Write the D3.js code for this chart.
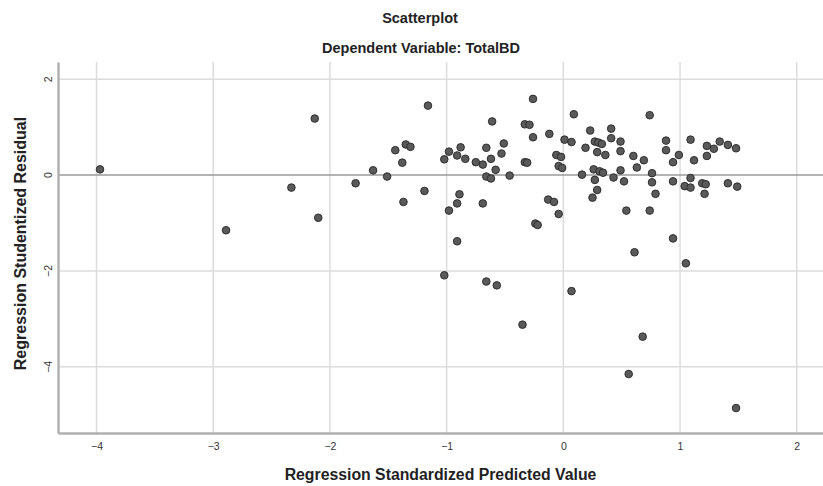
<!DOCTYPE html>
<html>
<head>
<meta charset="utf-8">
<script src="https://cdn.jsdelivr.net/npm/d3@7"></script>
<style>
    body { margin: 0; background: #fff; }
    text { font-family: "Liberation Sans", Arial, sans-serif; }
</style>
</head>
<body>
<div id="chart"></div>
<script>
    'use strict';
    // Regression Standardized Predicted Value
    var predicted = [
        -3.97, -2.89, -2.33, -2.13, -2.10, -1.78, -1.63, -1.51, -1.44, -1.35,
        -1.31, -1.38, -1.37, -1.19, -1.16, -1.02, -0.98, -0.91, -0.88, -0.84,
        -0.75, -0.69, -0.66, -0.62, -0.58, -0.51, -0.53, -0.61, -0.66, -0.62,
        -0.46, -0.89, -0.91, -0.98, -0.69, -0.91, -0.26, -0.33, -0.29, -0.26,
        -0.12, -0.33, -0.31, -0.13, -0.24, -0.22, 0.09, 0.74, 0.01, 0.07,
        0.23, 0.41, 0.41, 0.27, 0.30, 0.33, 0.49, 0.19, 0.29, 0.36,
        0.49, 0.60, 0.69, 0.63, -0.06, -0.02, -0.04, -0.01, 0.16, 0.26,
        0.31, 0.34, 0.27, 0.43, 0.49, 0.52, 0.29, 0.25, 0.76, 0.76,
        0.79, 0.88, 0.88, 0.99, 0.94, 1.09, 1.12, 0.94, 1.09, 1.04,
        1.09, 1.23, 1.29, 1.23, 1.34, 1.41, 1.48, 1.19, 1.22, 1.21,
        1.41, 1.49, 0.54, 0.74, -0.08, -0.04, 0.94, 0.61, 1.05, 0.07,
        0.68, 0.56, 1.48, -1.02, -0.66, -0.57, -0.35
    ];
    // Regression Studentized Residual
    var residual = [
        0.12, -1.15, -0.26, 1.18, -0.89, -0.17, 0.10, -0.03, 0.52, 0.64,
        0.59, 0.26, -0.56, -0.33, 1.45, 0.33, 0.49, 0.41, 0.58, 0.34,
        0.27, 0.22, 0.57, 0.34, 0.11, 0.66, 0.45, 1.12, -0.03, -0.07,
        -0.01, -0.40, -0.59, -0.74, -0.59, -1.38, 1.59, 1.06, 1.05, 0.79,
        0.86, 0.27, 0.26, -0.51, -1.01, -1.04, 1.27, 1.25, 0.74, 0.69,
        0.93, 0.97, 0.77, 0.70, 0.68, 0.65, 0.70, 0.57, 0.48, 0.42,
        0.50, 0.40, 0.31, 0.16, 0.42, 0.38, 0.19, 0.15, 0.01, 0.12,
        0.08, 0.05, -0.10, -0.05, 0.10, -0.13, -0.31, -0.47, 0.04, -0.15,
        -0.39, 0.72, 0.52, 0.42, 0.27, 0.74, 0.31, -0.13, -0.06, -0.23,
        -0.26, 0.61, 0.55, 0.40, 0.70, 0.63, 0.56, -0.17, -0.19, -0.39,
        -0.17, -0.24, -0.74, -0.74, -0.56, -0.81, -1.32, -1.61, -1.84, -2.42,
        -3.37, -4.15, -4.86, -2.09, -2.22, -2.30, -3.12
    ];
    var xTicks = [-4, -3, -2, -1, 0, 1, 2];
    var yTicks = [-4, -2, 0, 2];

    var width = 823,
        height = 486,
        plot = {
            left: 58,
            right: 823,
            top: 62,
            bottom: 433
        };

    var svg = d3.select('#chart')
        .append('svg')
        .attr('width', width)
        .attr('height', height);

    var x = d3.scaleLinear().domain([-4.33, 2.225]).range([plot.left, plot.right]);
    var y = d3.scaleLinear().domain([-5.38, 2.36]).range([plot.bottom, plot.top]);

    // titles
    svg.append('text')
        .attr('x', 420).attr('y', 23)
        .attr('text-anchor', 'middle')
        .attr('font-size', '14.5px').attr('font-weight', 'bold')
        .attr('fill', '#222')
        .text('Scatterplot');

    svg.append('text')
        .attr('x', 421).attr('y', 53)
        .attr('text-anchor', 'middle')
        .attr('font-size', '14.5px').attr('font-weight', 'bold')
        .attr('fill', '#222')
        .text('Dependent Variable: TotalBD');

    // grid
    var grid = svg.append('g').attr('class', 'grid');
    grid.selectAll('line.vx')
        .data(xTicks)
        .enter().append('line')
        .attr('class', 'vx')
        .attr('x1', function (d) { return x(d); })
        .attr('x2', function (d) { return x(d); })
        .attr('y1', plot.top).attr('y2', plot.bottom)
        .attr('stroke', '#dcdcdc').attr('stroke-width', 1.5);

    grid.selectAll('line.hy')
        .data(yTicks.filter(function (d) { return d !== 0; }))
        .enter().append('line')
        .attr('class', 'hy')
        .attr('x1', plot.left).attr('x2', plot.right)
        .attr('y1', function (d) { return y(d); })
        .attr('y2', function (d) { return y(d); })
        .attr('stroke', '#dcdcdc').attr('stroke-width', 1.5);

    // reference line at 0
    svg.append('line')
        .attr('x1', plot.left).attr('x2', plot.right)
        .attr('y1', y(0)).attr('y2', y(0))
        .attr('stroke', '#9a9a9a').attr('stroke-width', 1.5);

    // axes
    var xAxis = svg.append('g')
        .attr('transform', 'translate(0,' + plot.bottom + ')')
        .call(d3.axisBottom(x).tickValues(xTicks).tickSize(0).tickPadding(10)
            .tickFormat(d3.format('d')));
    xAxis.select('.domain').attr('stroke', '#b0b0b0').attr('stroke-width', 2.5);
    xAxis.selectAll('text').attr('font-size', '10.5px').attr('fill', '#333')
        .attr('font-family', '"Liberation Sans", Arial, sans-serif');

    var yAxis = svg.append('g')
        .attr('transform', 'translate(' + plot.left + ',0)')
        .call(d3.axisLeft(y).tickValues(yTicks).tickSize(0).tickPadding(0)
            .tickFormat(d3.format('d')));
    yAxis.select('.domain').attr('stroke', '#b0b0b0').attr('stroke-width', 2.5);
    yAxis.selectAll('text')
        .attr('font-size', '10.5px').attr('fill', '#333')
        .attr('font-family', '"Liberation Sans", Arial, sans-serif')
        .attr('text-anchor', 'middle')
        .attr('x', 0).attr('dy', 0)
        .attr('transform', function (d) {
            return 'translate(-6,' + y(d) + ') rotate(-90)';
        })
        .attr('y', 0);
    yAxis.selectAll('.tick').attr('transform', null);

    // axis titles
    svg.append('text')
        .attr('x', (plot.left + plot.right) / 2).attr('y', 480)
        .attr('text-anchor', 'middle')
        .attr('font-size', '15.8px').attr('font-weight', 'bold')
        .attr('fill', '#222')
        .text('Regression Standardized Predicted Value');

    svg.append('text')
        .attr('transform', 'translate(26,' + ((plot.top + plot.bottom) / 2 - 4) + ') rotate(-90)')
        .attr('text-anchor', 'middle')
        .attr('font-size', '16px').attr('font-weight', 'bold')
        .attr('fill', '#222')
        .text('Regression Studentized Residual');

    // points
    svg.append('g')
        .attr('class', 'points')
        .selectAll('circle')
        .data(predicted)
        .enter().append('circle')
        .attr('cx', function (d) { return x(d); })
        .attr('cy', function (d, i) { return y(residual[i]); })
        .attr('r', 3.8)
        .attr('fill', '#5a5a5a')
        .attr('stroke', '#2e2e2e')
        .attr('stroke-width', 1);
</script>
</body>
</html>
